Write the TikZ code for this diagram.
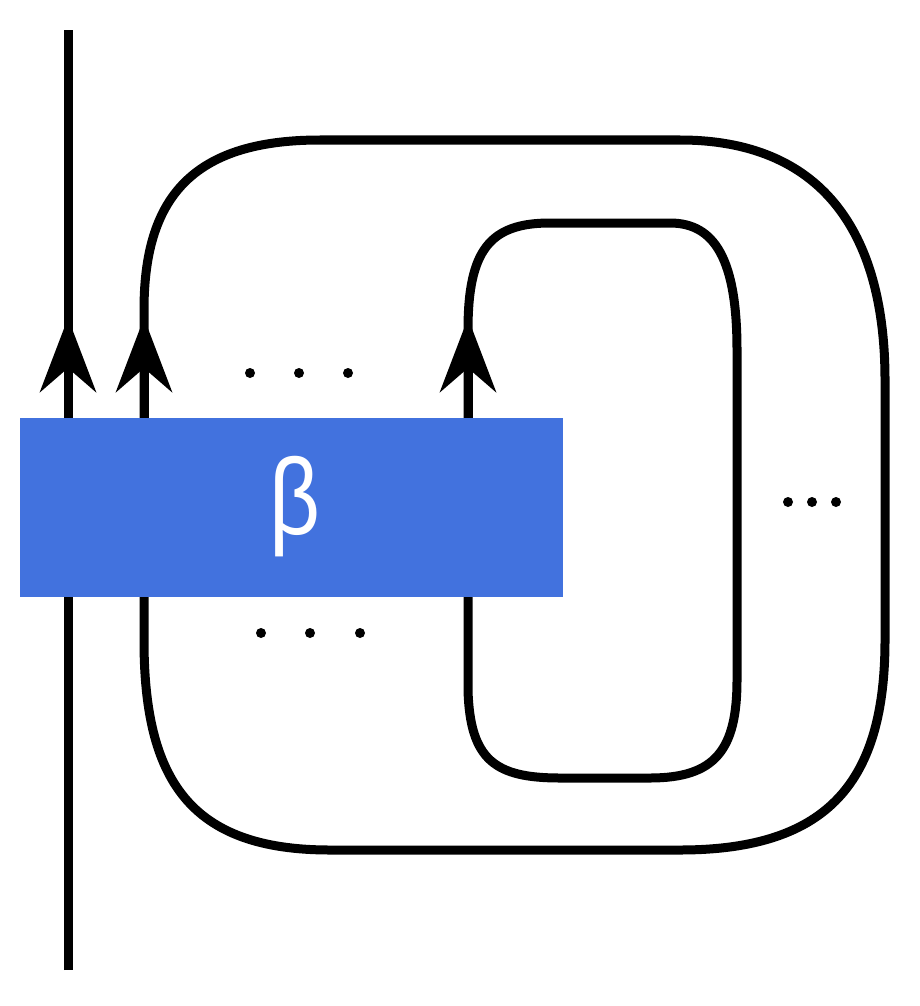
\documentclass[tikz,border=0pt]{standalone}
\usepackage{fontspec}
\newfontfamily\betafont{Liberation Sans}
\usetikzlibrary{arrows.meta}
\definecolor{boxblue}{RGB}{66,114,222}
\begin{document}
\begin{tikzpicture}[x=1pt,y=-1pt,
  strand/.style={line width=9pt, line join=round},
  uptip/.style={-{Stealth[length=74pt,width=56pt,inset=24pt]}},
  dot/.style={circle,fill=black,inner sep=0pt,minimum size=10pt}]
\useasboundingbox (0,0) rectangle (920,1006);
% through strand
\coordinate (ltop) at (68,30);
\coordinate (lbot) at (68,970);
\draw[strand] (lbot) -- (ltop);
% outer closure loop
\draw[strand] (144,640) -- (144,310) .. controls (144,200) and (190,140) .. (320,140)
  -- (680,140) .. controls (820,140) and (885,230) .. (885,380)
  -- (885,640) .. controls (885,780) and (830,850) .. (680,850)
  -- (330,850) .. controls (190,850) and (144,780) .. (144,640) -- cycle;
% inner closure loop
\draw[strand] (468,690) -- (468,330) .. controls (468,250) and (490,223) .. (550,223)
  -- (670,223) .. controls (715,223) and (737,260) .. (737,350)
  -- (737,680) .. controls (737,750) and (715,778) .. (650,778)
  -- (560,778) .. controls (495,778) and (470,760) .. (468,690) -- cycle;
% arrows
\coordinate (a1s) at (68,420);  \coordinate (a1e) at (68,318);
\coordinate (a2s) at (144,420); \coordinate (a2e) at (144,318);
\coordinate (a3s) at (468,420); \coordinate (a3e) at (468,318);
\draw[strand,uptip] (a1s) -- (a1e);
\draw[strand,uptip] (a2s) -- (a2e);
\draw[strand,uptip] (a3s) -- (a3e);
% braid box
\node[fill=boxblue, minimum width=543pt, minimum height=179pt, inner sep=0pt,
      anchor=north west] (beta) at (20,418) {};
\node[text=white, inner sep=0pt, font=\betafont\fontsize{108}{108}\selectfont]
  (betalabel) at ([xshift=3pt,yshift=1pt]beta.center) {\scalebox{0.82}[1]{β}};
% dots
\node[dot] (u1) at (250,373) {}; \node[dot] (u2) at (299,373) {}; \node[dot] (u3) at (348,373) {};
\node[dot] (d1) at (261,633) {}; \node[dot] (d2) at (310,633) {}; \node[dot] (d3) at (360,633) {};
\node[dot] (r1) at (788,502) {}; \node[dot] (r2) at (812,502) {}; \node[dot] (r3) at (836,502) {};
\end{tikzpicture}
\end{document}
